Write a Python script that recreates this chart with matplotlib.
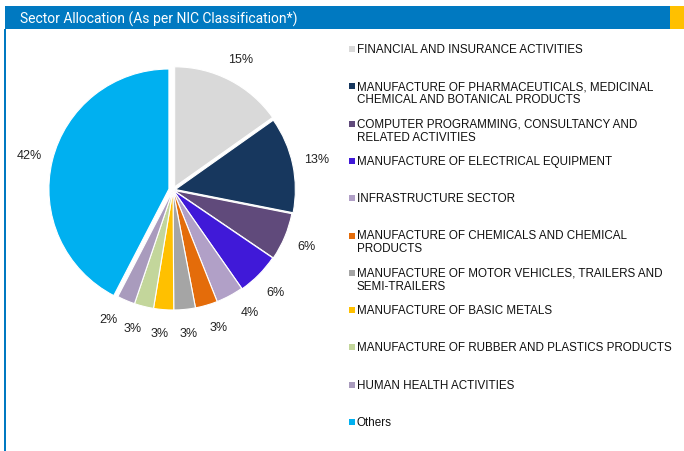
import numpy as np
import matplotlib.pyplot as plt
from matplotlib.patches import Rectangle

# Sector weights (%), clockwise from 12 o'clock
sectors = [
    'FINANCIAL AND INSURANCE ACTIVITIES',
    'MANUFACTURE OF PHARMACEUTICALS, MEDICINAL\nCHEMICAL AND BOTANICAL PRODUCTS',
    'COMPUTER PROGRAMMING, CONSULTANCY AND\nRELATED ACTIVITIES',
    'MANUFACTURE OF ELECTRICAL EQUIPMENT',
    'INFRASTRUCTURE SECTOR',
    'MANUFACTURE OF CHEMICALS AND CHEMICAL\nPRODUCTS',
    'MANUFACTURE OF MOTOR VEHICLES, TRAILERS AND\nSEMI-TRAILERS',
    'MANUFACTURE OF BASIC METALS',
    'MANUFACTURE OF RUBBER AND PLASTICS PRODUCTS',
    'HUMAN HEALTH ACTIVITIES',
    'Others',
]
weights = [15.2, 12.9, 6.4, 5.8, 3.7, 3.0, 2.9, 2.7, 2.6, 2.4, 42.4]
colors = ['#D9D9D9', '#17375E', '#604A7B', '#4019D8', '#B1A0C7', '#E46C0A',
          '#A5A5A5', '#FFC000', '#C3D69B', '#A99BBD', '#00B0F0']
explode = [0.03, 0.02, 0.01, 0.005, 0, 0, 0, 0, 0, 0, 0.035]

title = 'Sector Allocation (As per NIC Classification*)'

W, H = 684, 452
fig = plt.figure(figsize=(W / 100, H / 100), dpi=100)


def fx(x):
    return x / W


def fy(y):
    return 1 - y / H


# header bar, yellow tab and left rule
fig.patches.append(Rectangle((fx(5), fy(30)), fx(665), 23 / H,
                             transform=fig.transFigure, color='#0079C1', lw=0))
fig.patches.append(Rectangle((fx(670), fy(30)), fx(14), 23 / H,
                             transform=fig.transFigure, color='#FFC000', lw=0))
fig.patches.append(Rectangle((fx(4), 0), fx(2), fy(30),
                             transform=fig.transFigure, color='#0079C1', lw=0))
fig.text(fx(20), fy(19), title, color='white', fontsize=10, va='center',
         family='Roboto')

# pie
cx, cy, R = 173, 191, 120
ax = fig.add_axes([fx(cx - R), fy(cy + R), 2 * R / W, 2 * R / H])
wedges, texts, autotexts = ax.pie(
    weights, colors=colors, startangle=90, counterclock=False,
    explode=explode, autopct='%1.0f%%', pctdistance=1.2,
    wedgeprops=dict(edgecolor='white', linewidth=0.8),
    textprops=dict(fontsize=9, family='Liberation Sans', color='#222222'))
for t in autotexts:
    t.set_ha('center')
    t.set_va('center')

# spread the crowded small-slice labels a little, like the original
small = [i for i, v in enumerate(weights) if v < 4.5]
mids = np.array([(wedges[i].theta1 + wedges[i].theta2) / 2 for i in small])
centre = mids.mean()
for i, m in zip(small, mids):
    a = np.deg2rad(centre + 1.15 * (m - centre))
    autotexts[i].set_position((1.2 * np.cos(a), 1.2 * np.sin(a)))

ax.set_xlim(-1, 1)
ax.set_ylim(-1, 1)
ax.axis('off')

# legend drawn by hand: fixed pitch, first line aligned with the marker
y0, pitch, line_h = 50, 37.3, 13
for i, (name, col) in enumerate(zip(sectors, colors)):
    y = y0 + i * pitch
    fig.patches.append(Rectangle((fx(349), fy(y + 3)), 6 / W, 6 / H,
                                 transform=fig.transFigure, color=col, lw=0))
    for j, line in enumerate(name.split('\n')):
        fig.text(fx(357), fy(y + j * line_h), line, fontsize=8.4,
                 family='Liberation Sans', va='center', color='#111111')

fig.savefig('out.png', dpi=100)
